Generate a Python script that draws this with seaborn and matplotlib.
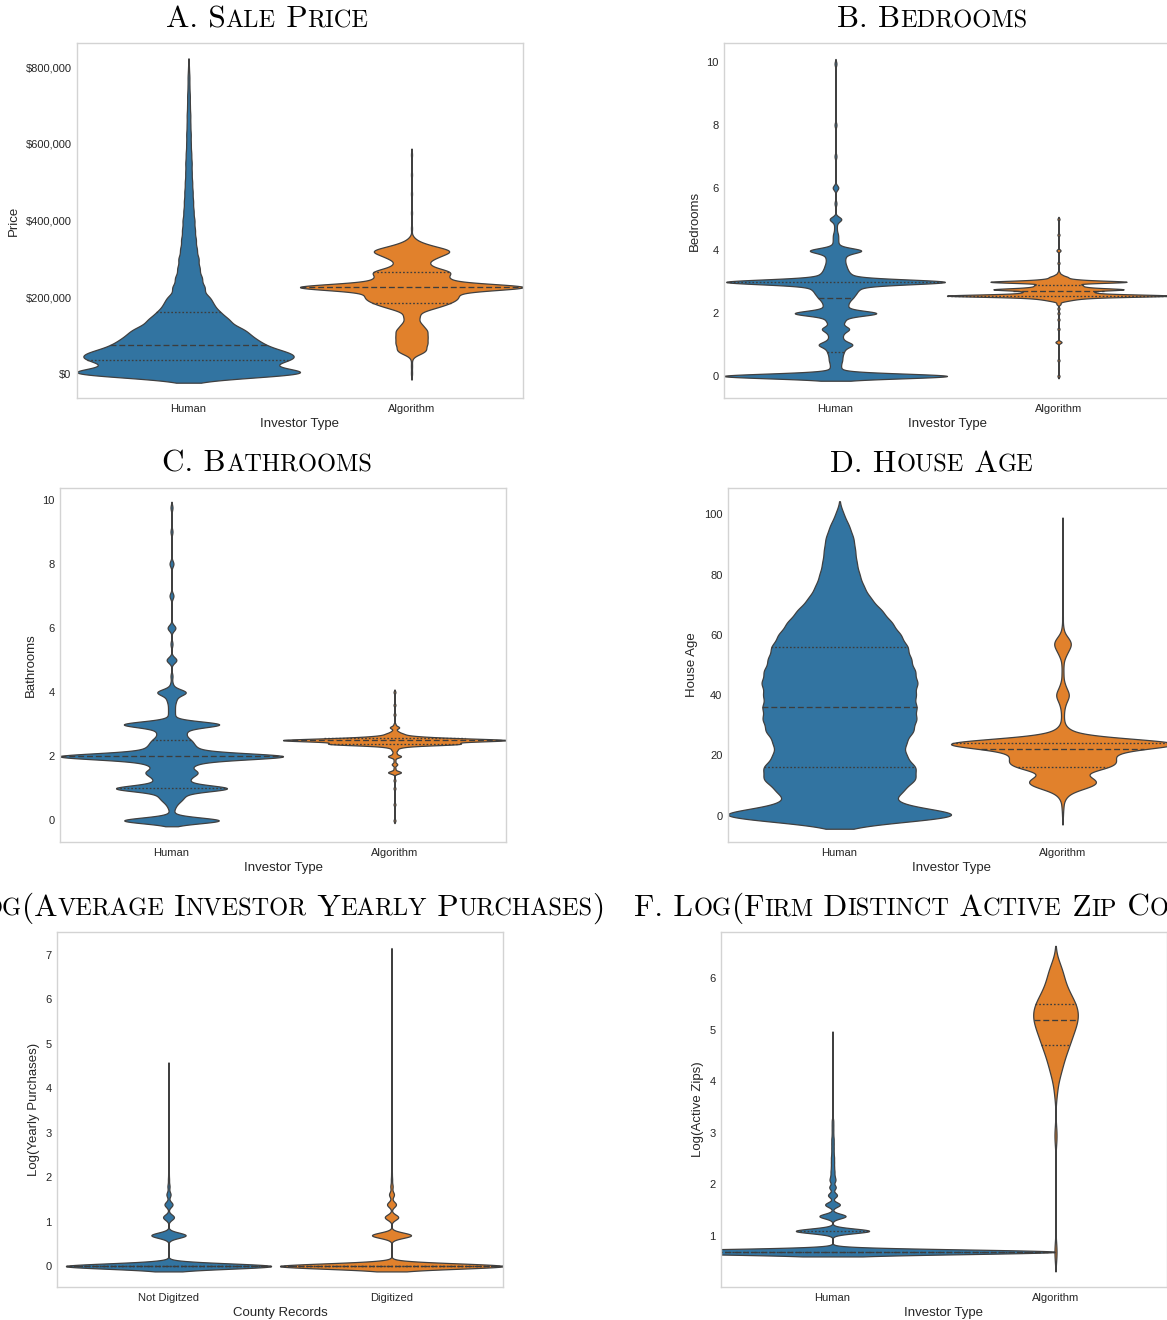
import numpy as np
import matplotlib
matplotlib.use("Agg")
import matplotlib.pyplot as plt
import seaborn as sns
from matplotlib.ticker import FuncFormatter

# ---------------- data (values and how many observations sit at each) ----------------
investor_types = ["Human", "Algorithm"]
county_types = ["Not Digitzed", "Digitized"]

# A. Sale price (thousands of $)
price_human_k = [0, 12, 24, 36, 48, 60, 75, 90, 105, 120, 140, 160, 180, 200, 225, 250, 275, 300,
                 325, 350, 375, 400, 425, 450, 475, 500, 525, 550, 575, 600, 625, 650, 675, 700,
                 725, 750, 775, 800]
price_human_n = [240, 54, 86, 120, 116, 111, 102, 90, 78, 79, 74, 56, 44, 40, 35, 29, 24, 22,
                 18, 16, 14, 13, 11, 10, 9, 8, 7, 7, 6, 5, 5, 4, 4, 3, 3, 2, 2, 1]
price_algo_k = [0, 20, 40, 55, 65, 78, 90, 100, 112, 125, 137, 150, 165, 175, 185, 195, 205, 215,
                226, 235, 245, 255, 265, 275, 287, 300, 310, 320, 330, 340, 352, 380, 420, 470, 520, 572]
price_algo_n = [1, 1, 1, 14, 16, 20, 16, 16, 20, 14, 8, 11, 14, 28, 38, 45, 45, 40,
                175, 30, 40, 30, 45, 24, 20, 24, 28, 45, 25, 12, 4, 1, 1, 1, 1, 1]

# B. Bedrooms
bed_human = [0, 0.125, 0.25, 0.375, 0.5, 0.625, 0.75, 0.875, 1.0, 1.125, 1.25, 1.375, 1.5, 1.625,
             1.75, 1.875, 2.0, 2.125, 2.25, 2.375, 2.5, 2.625, 2.75, 2.875, 3.0, 3.125, 3.25, 3.375,
             3.5, 3.625, 3.75, 3.875, 4.0, 4.125, 4.25, 4.375, 4.5, 4.625, 4.75, 4.875, 5.0, 5.5,
             6.0, 7.0, 8.0, 9.95]
bed_human_n = [120, 5, 4, 4, 5, 5, 6, 7, 15, 6, 5, 6, 12, 5, 7, 8, 40, 9, 9, 10, 13, 15, 17, 20,
               110, 15, 11, 9, 8, 7, 7, 8, 25, 3, 2, 2, 2, 1, 1, 1, 6, 1, 3, 1, 1, 1]
bed_algo = [0.0, 0.5, 1.08, 1.5, 1.8, 2.0, 2.15, 2.3, 2.4, 2.45, 2.5, 2.56, 2.62, 2.68, 2.76, 2.83,
            2.9, 3.0, 3.07, 3.15, 3.22, 3.3, 3.6, 4.0, 4.5, 5.0]
bed_algo_n = [1, 1, 3, 1, 1, 1, 1, 2, 6, 10, 20, 100, 25, 25, 60, 20, 20, 65, 15, 8, 3, 1, 1, 2, 1, 1]

# C. Bathrooms
bath_human = [0.0, 0.125, 0.25, 0.375, 0.5, 0.625, 0.75, 0.875, 1.0, 1.125, 1.25, 1.375, 1.5, 1.625,
              1.75, 1.875, 2.0, 2.125, 2.25, 2.375, 2.5, 2.625, 2.75, 2.875, 3.0, 3.125, 3.25, 3.375,
              3.5, 3.625, 3.75, 3.875, 4.0, 4.125, 4.25, 4.5, 5.0, 5.5, 6.0, 7.0, 8.0, 9.0, 9.75]
bath_human_n = [48, 2, 1, 2, 3, 6, 8, 8, 50, 10, 10, 12, 18, 10, 14, 20, 100, 18, 15, 13, 12, 8, 9, 8,
                45, 2, 2, 2, 2, 2, 3, 3, 13, 1, 1, 1, 5, 1, 4, 2, 2, 1, 1]
bath_algo = [0.0, 0.5, 1.0, 1.25, 1.5, 1.62, 1.75, 1.87, 2.0, 2.1, 2.2, 2.3, 2.38, 2.44, 2.5, 2.56,
             2.62, 2.7, 2.78, 2.9, 3.0, 3.3, 3.6, 4.0]
bath_algo_n = [1, 1, 1, 1, 7, 1, 3, 1, 7, 2, 3, 8, 60, 25, 100, 40, 15, 8, 3, 5, 1, 1, 1, 1]

# D. House age (years)
age_human = [0, 4, 8, 12, 16, 20, 24, 28, 32, 36, 40, 44, 48, 52, 56, 60, 64, 68, 72, 76, 80, 84,
             88, 92, 96, 100]
age_human_n = [100, 36, 44, 54, 54, 46, 46, 52, 54, 54, 53, 55, 53, 50, 48, 43, 37, 30, 22, 17, 14,
               12, 11, 10, 7, 3]
age_algo = [0, 3, 6, 8, 10, 12, 14, 16, 18, 20, 22, 24, 26, 28, 30, 32, 34, 36, 38, 40, 42, 44, 47,
            50, 53, 55, 57, 59, 62, 66, 72, 80, 88, 96]
age_algo_n = [1, 2, 5, 12, 54, 54, 18, 78, 81, 72, 87, 249, 33, 12, 3, 2, 2, 3, 6, 12, 6, 3, 2,
              2, 5, 9, 15, 9, 2, 1, 1, 1, 1, 1]

# E. Log(average investor yearly purchases)
purch_notdig = [0.0, 0.693, 1.099, 1.386, 1.609, 1.792, 1.946, 2.079, 2.197, 2.4, 2.7, 3.0, 3.4,
                3.8, 4.2, 4.46]
purch_notdig_n = [1000, 167, 53, 39, 20, 10, 5, 3, 2, 1, 1, 1, 1, 1, 1, 1]
purch_dig = [0.0, 0.693, 1.099, 1.386, 1.609, 1.792, 1.946, 2.079, 2.197, 2.4, 2.8, 3.2, 3.7, 4.3,
             5.0, 5.8, 6.5, 7.03]
purch_dig_n = [1000, 175, 60, 40, 22, 10, 5, 3, 2, 1, 1, 1, 1, 1, 1, 1, 1, 1]

# F. Log(firm distinct active zip codes)
zips_human = [0.693, 1.099, 1.386, 1.609, 1.792, 1.946, 2.079, 2.16, 2.25, 2.34, 2.43, 2.52, 2.61,
              2.7, 2.79, 2.88, 2.97, 3.06, 3.15, 3.24, 3.4, 3.6, 3.8, 4.0, 4.2, 4.4, 4.6, 4.88]
zips_human_n = [700, 115, 41, 23, 14, 10, 8, 5, 5, 4, 4, 4, 3, 3, 3, 3, 2, 2, 2, 2,
                1, 1, 1, 1, 1, 1, 1, 1]
zips_algo = [0.693, 2.95, 3.8, 4.1, 4.3, 4.5, 4.7, 4.9, 5.1, 5.3, 5.5, 5.7, 5.9, 6.1, 6.25]
zips_algo_n = [1, 1, 1, 2, 3, 4, 6, 7, 9, 10, 9, 6, 4, 3, 2]

# ---------------- style ----------------
sns.set_theme(style="whitegrid")
plt.rcParams["font.family"] = ["Liberation Sans", "DejaVu Sans"]
plt.rcParams["axes.edgecolor"] = "#d3d3d3"
plt.rcParams["axes.linewidth"] = 1.0

BLUE = "#3274a1"
ORANGE = "#e1812c"
W_PX, H_PX = 1167, 1320
fig = plt.figure(figsize=(W_PX / 100, H_PX / 100), dpi=100)


def add_ax(left, top, right, bottom):
    return fig.add_axes([left / W_PX, 1 - bottom / H_PX, (right - left) / W_PX, (bottom - top) / H_PX])


def violins(ax, cats, groups, sigmas, widths):
    colors = [BLUE, ORANGE]
    for i, (vals, counts) in enumerate(groups):
        data = np.repeat(np.asarray(vals, dtype=float), counts)
        factor = sigmas[i] / data.std(ddof=1)
        n_before = len(ax.lines)
        sns.violinplot(x=[cats[i]] * len(data), y=data, order=cats, color=colors[i], saturation=1,
                       inner="quart", width=widths[i], density_norm="width", cut=2, gridsize=1500,
                       bw_method=factor, linewidth=0.9, linecolor=".25", ax=ax)
        new_lines = ax.lines[n_before:]
        if len(new_lines) == 3:
            for j, ln in enumerate(new_lines):
                ln.set_color("#3d3d3d")
                ln.set_linewidth(0.95)
                ln.set_dashes((4.5, 2.2) if j == 1 else (1.3, 1.5))
    ax.grid(False)
    ax.tick_params(axis="both", labelsize=8, colors=".15", length=0, pad=4)
    for s in ax.spines.values():
        s.set_color("#d3d3d3")


def style_labels(ax, xlabel, ylabel):
    ax.set_xlabel(xlabel, fontsize=9.5, color=".15", labelpad=3)
    ax.set_ylabel(ylabel, fontsize=9.5, color=".15", labelpad=4)


# A
axA = add_ax(77, 43, 523, 398)
violins(axA, investor_types,
        [(np.asarray(price_human_k) * 1000, price_human_n), (np.asarray(price_algo_k) * 1000, price_algo_n)],
        [12000, 8000], [1.0, 1.0])
axA.set_ylim(-64000, 864000)
axA.set_yticks([0, 200000, 400000, 600000, 800000])
axA.yaxis.set_major_formatter(FuncFormatter(lambda v, p: "${:,.0f}".format(v)))
style_labels(axA, "Investor Type", "Price")

# B
axB = add_ax(724, 43, 1170, 398)
violins(axB, investor_types, [(bed_human, bed_human_n), (bed_algo, bed_algo_n)], [0.075, 0.035], [1.0, 1.0])
axB.set_ylim(-0.70, 10.61)
axB.set_yticks([0, 2, 4, 6, 8, 10])
style_labels(axB, "Investor Type", "Bedrooms")

# C
axC = add_ax(60, 488, 506, 842)
violins(axC, investor_types, [(bath_human, bath_human_n), (bath_algo, bath_algo_n)], [0.09, 0.04], [1.0, 1.0])
axC.set_ylim(-0.67, 10.36)
axC.set_yticks([0, 2, 4, 6, 8, 10])
style_labels(axC, "Investor Type", "Bathrooms")

# D
axD = add_ax(728, 488, 1174, 842)
violins(axD, investor_types, [(age_human, age_human_n), (age_algo, age_algo_n)], [2.2, 1.5], [1.0, 1.0])
axD.set_ylim(-8.8, 108.8)
axD.set_yticks([0, 20, 40, 60, 80, 100])
style_labels(axD, "Investor Type", "House Age")

# E
axE = add_ax(57, 932, 503, 1287)
violins(axE, county_types, [(purch_notdig, purch_notdig_n), (purch_dig, purch_dig_n)], [0.06, 0.06], [0.92, 1.0])
axE.set_ylim(-0.47, 7.51)
axE.set_yticks([0, 1, 2, 3, 4, 5, 6, 7])
style_labels(axE, "County Records", "Log(Yearly Purchases)")

# F
axF = add_ax(721, 932, 1167, 1287)
violins(axF, investor_types, [(zips_human, zips_human_n), (zips_algo, zips_algo_n)], [0.045, 0.19], [2.0, 0.2])
axF.set_ylim(0.01, 6.9)
axF.set_yticks([1, 2, 3, 4, 5, 6])
style_labels(axF, "Investor Type", "Log(Active Zips)")


# ---------------- small-caps titles ----------------
def small_caps_title(cx_px, base_px, text, big=22.5, ratio=0.78):
    runs = []
    for ch in text:
        small = ch.islower()
        if runs and runs[-1][1] == small:
            runs[-1][0] += ch.upper()
        else:
            runs.append([ch.upper(), small])
    renderer = fig.canvas.get_renderer()
    texts, widths = [], []
    for s, small in runs:
        t = fig.text(0, 1 - base_px / H_PX, s, fontsize=big * ratio if small else big,
                     family="cmr10", va="baseline", ha="left", color="black")
        texts.append(t)
        widths.append(t.get_window_extent(renderer).width)
    x = cx_px - sum(widths) / 2
    for t, w in zip(texts, widths):
        t.set_x(x / W_PX)
        x += w


small_caps_title(267, 27.3, "A. Sale Price")
small_caps_title(932, 27.3, "B. Bedrooms")
small_caps_title(267, 471.7, "C. Bathrooms")
small_caps_title(932, 471.7, "D. House Age")
small_caps_title(264, 915.5, "E. Log(Average Investor Yearly Purchases)")
small_caps_title(932, 915.5, "F. Log(Firm Distinct Active Zip Codes)")

fig.savefig("out.png", dpi=100)
